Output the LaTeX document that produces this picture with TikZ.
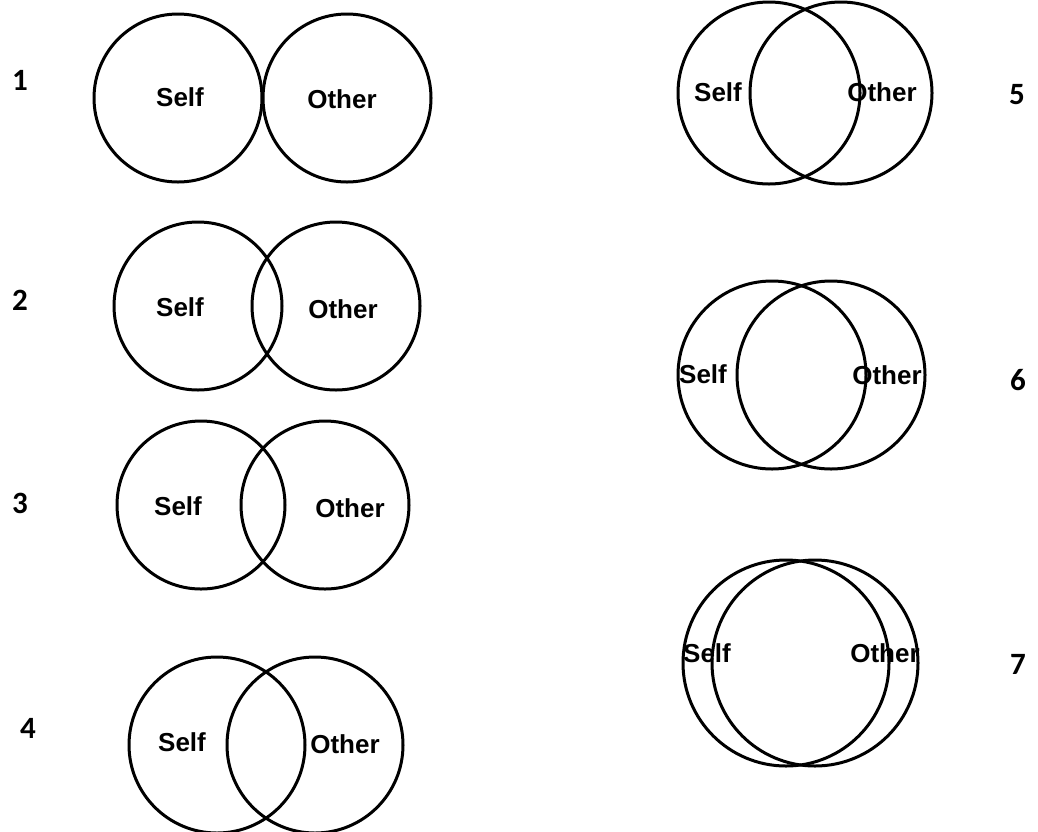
\documentclass[tikz,border=0pt]{standalone}
\usepackage{fontspec}
\setmainfont{Liberation Sans}
\newfontfamily\numfont{Carlito}
\usepackage{tikz}

\begin{document}
\begin{tikzpicture}[x=1pt,y=-1pt,
  ring/.style={circle,draw,line width=3pt,inner sep=0pt},
  word/.style={font=\fontsize{26}{26}\selectfont\bfseries,inner sep=0pt},
  num/.style={font=\fontsize{31}{31}\selectfont\numfont\bfseries,inner sep=0pt}]
 \useasboundingbox (0,0) rectangle (1038,831);
 % left column
 \node[ring,minimum size=168pt] (self_1) at (178,98) {};
 \node[ring,minimum size=168pt] (other_1) at (347,98) {};
 \node[word] (lself_1) at (180,97) {Self};
 \node[word] (lother_1) at (342,99) {Other};
 \node[num] (n_1) at (20,80) {1};

 \node[ring,minimum size=168pt] (self_2) at (198,306) {};
 \node[ring,minimum size=168pt] (other_2) at (336,306) {};
 \node[word] (lself_2) at (180,307) {Self};
 \node[word] (lother_2) at (343,309) {Other};
 \node[num] (n_2) at (20,300) {2};

 \node[ring,minimum size=168pt] (self_3) at (201,505) {};
 \node[ring,minimum size=168pt] (other_3) at (325,505) {};
 \node[word] (lself_3) at (178,506) {Self};
 \node[word] (lother_3) at (350,508) {Other};
 \node[num] (n_3) at (20,503) {3};

 \node[ring,minimum size=176pt] (self_4) at (217,745) {};
 \node[ring,minimum size=176pt] (other_4) at (315,745) {};
 \node[word] (lself_4) at (182,742) {Self};
 \node[word] (lother_4) at (345,744) {Other};
 \node[num] (n_4) at (28,728) {4};
 % right column
 \node[ring,minimum size=182pt] (self_5) at (769,93) {};
 \node[ring,minimum size=182pt] (other_5) at (841,93) {};
 \node[word] (lself_5) at (718,92) {Self};
 \node[word] (lother_5) at (882,92) {Other};
 \node[num] (n_5) at (1017,95) {5};

 \node[ring,minimum size=188pt] (self_6) at (772,375) {};
 \node[ring,minimum size=188pt] (other_6) at (831,375) {};
 \node[word] (lself_6) at (703,374) {Self};
 \node[word] (lother_6) at (887,375) {Other};
 \node[num] (n_6) at (1018,380) {6};

 \node[ring,minimum size=206pt] (self_7) at (786,663) {};
 \node[ring,minimum size=206pt] (other_7) at (815,663) {};
 \node[word] (lself_7) at (707,653) {Self};
 \node[word] (lother_7) at (885,653) {Other};
 \node[num] (n_7) at (1018,664) {7};
\end{tikzpicture}
\end{document}
